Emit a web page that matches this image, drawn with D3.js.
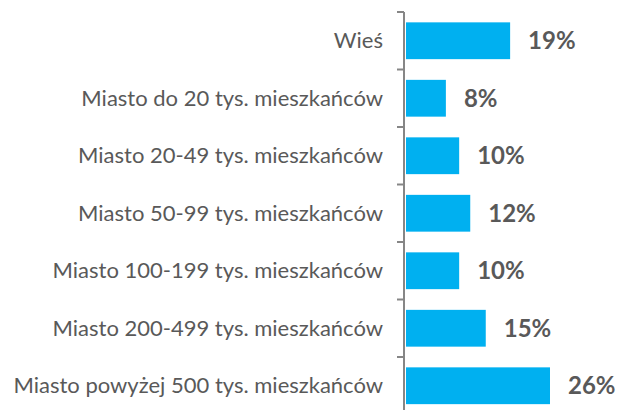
<!DOCTYPE html>
<html>
<head>
<meta charset="utf-8">
<script src="https://cdn.jsdelivr.net/npm/d3@7"></script>
<style>
  body { margin: 0; background: #fff; }
  svg { display: block; }
</style>
</head>
<body>
<svg width="617" height="410"></svg>
<script>
const categories = [
    "Wieś",
    "Miasto do 20 tys. mieszkańców",
    "Miasto 20-49 tys. mieszkańców",
    "Miasto 50-99 tys. mieszkańców",
    "Miasto 100-199 tys. mieszkańców",
    "Miasto 200-499 tys. mieszkańców",
    "Miasto powyżej 500 tys. mieszkańców"
];
// bar lengths (labels are rounded)
const values = [18.8, 7.2, 9.6, 11.6, 9.6, 14.4, 26];
const valueLabels = ["19%", "8%", "10%", "12%", "10%", "15%", "26%"];

function drawChart() {
    const svg = d3.select("svg");
    const axisX = 404;
    const top = 12, bottom = 414.5;

    const x = d3.scaleLinear().domain([0, 26]).range([axisX + 2, 550]);
    const y = d3.scaleBand()
        .domain(categories)
        .range([top, bottom])
        .paddingInner(0.36)
        .paddingOuter(0.18);

    // bars
    svg.append("g")
        .selectAll("rect")
        .data(values)
        .enter().append("rect")
        .attr("x", x(0))
        .attr("y", (d, i) => y(categories[i]))
        .attr("width", d => x(d) - x(0))
        .attr("height", y.bandwidth())
        .attr("fill", "#00B0F0");

    // axis line and ticks at band boundaries
    const axis = svg.append("g").attr("stroke", "#868686").attr("stroke-width", 2);
    axis.append("line")
        .attr("x1", axisX).attr("x2", axisX)
        .attr("y1", top).attr("y2", bottom);
    const ticks = d3.range(categories.length + 1).map(i => top + i * (bottom - top) / categories.length);
    axis.selectAll("line.tick")
        .data(ticks)
        .enter().append("line")
        .attr("class", "tick")
        .attr("x1", axisX - 7).attr("x2", axisX)
        .attr("y1", d => d).attr("y2", d => d);

    // category labels
    svg.append("g")
        .selectAll("text")
        .data(categories)
        .enter().append("text")
        .attr("x", axisX - 21)
        .attr("y", d => y(d) + y.bandwidth() / 2)
        .attr("dy", "0.35em")
        .attr("text-anchor", "end")
        .attr("font-family", "Lato, 'Open Sans', sans-serif")
        .attr("font-size", 22)
        .attr("fill", "#595959")
        .text(d => d);

    // value labels
    svg.append("g")
        .selectAll("text")
        .data(values)
        .enter().append("text")
        .attr("x", d => x(d) + 18)
        .attr("y", (d, i) => y(categories[i]) + y.bandwidth() / 2)
        .attr("dy", "0.35em")
        .attr("font-family", "Lato, 'Open Sans', sans-serif")
        .attr("font-weight", "bold")
        .attr("font-size", 24)
        .attr("fill", "#595959")
        .text((d, i) => valueLabels[i]);
}

drawChart();
</script>
</body>
</html>
